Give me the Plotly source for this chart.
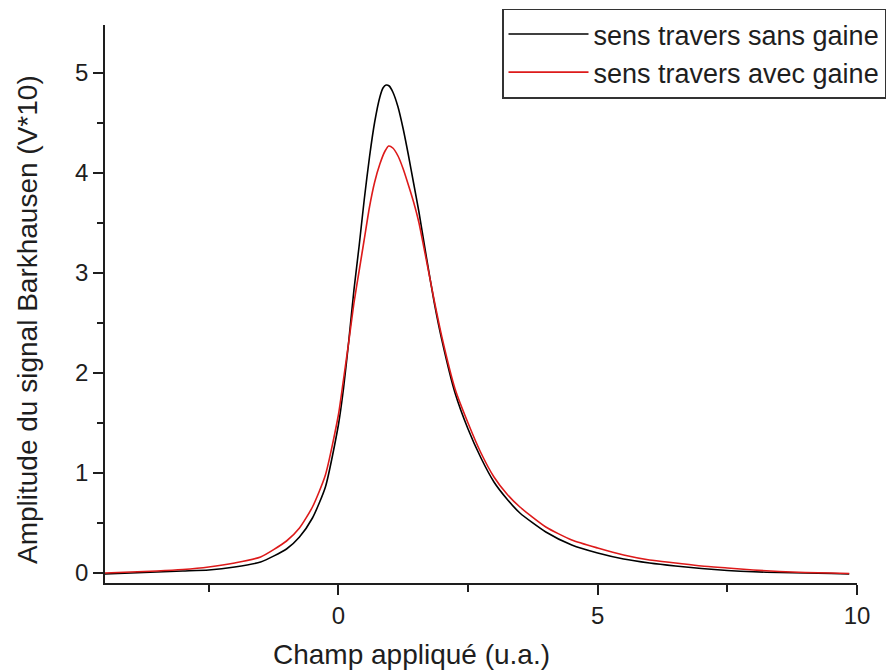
import plotly.graph_objects as go

# Applied field (u.a.) and Barkhausen amplitude (V*10)
champ_sans = [-4.5, -4.0, -3.5, -3.0, -2.5, -2.0, -1.5, -1.0, -0.75, -0.5, -0.25, 0.0,
              0.1, 0.2, 0.3, 0.4, 0.5, 0.6, 0.7, 0.8, 0.86, 0.92, 0.98, 1.05, 1.15, 1.25, 1.35, 1.45,
              1.55, 1.7, 1.85, 2.0, 2.25, 2.5, 2.75, 3.0, 3.25, 3.5, 4.0, 4.5, 5.0, 5.5,
              6.0, 6.5, 7.0, 7.5, 8.0, 8.5, 9.0, 9.5, 9.85]
sans_gaine = [-0.01, 0.00, 0.01, 0.02, 0.03, 0.06, 0.11, 0.24, 0.36, 0.55, 0.86, 1.48,
              1.85, 2.32, 2.83, 3.27, 3.74, 4.16, 4.51, 4.76, 4.85, 4.88, 4.87, 4.81, 4.66, 4.44, 4.18, 3.90,
              3.62, 3.15, 2.70, 2.32, 1.80, 1.44, 1.15, 0.91, 0.74, 0.60, 0.41, 0.28, 0.20, 0.14,
              0.10, 0.07, 0.045, 0.025, 0.012, 0.005, 0.0, -0.005, -0.01]

champ_avec = [-4.5, -4.0, -3.5, -3.0, -2.5, -2.0, -1.5, -1.0, -0.75, -0.5, -0.25, 0.0,
              0.1, 0.2, 0.3, 0.4, 0.5, 0.6, 0.7, 0.8, 0.9, 0.97, 1.05, 1.15, 1.25, 1.35, 1.45,
              1.55, 1.7, 1.85, 2.0, 2.25, 2.5, 2.75, 3.0, 3.25, 3.5, 4.0, 4.5, 5.0, 5.5,
              6.0, 6.5, 7.0, 7.5, 8.0, 8.5, 9.0, 9.5, 9.85]
avec_gaine = [0.00, 0.01, 0.02, 0.035, 0.06, 0.10, 0.16, 0.32, 0.45, 0.66, 0.98, 1.58,
              1.94, 2.31, 2.70, 3.02, 3.34, 3.66, 3.91, 4.09, 4.22, 4.27, 4.25, 4.17, 4.04, 3.88, 3.71,
              3.51, 3.12, 2.72, 2.35, 1.84, 1.50, 1.20, 0.96, 0.79, 0.66, 0.46, 0.33, 0.25, 0.18,
              0.13, 0.10, 0.07, 0.05, 0.03, 0.015, 0.005, 0.0, -0.005]

x_ticks = [0, 5, 10]
y_ticks = [0, 1, 2, 3, 4, 5]

FONT = "Liberation Sans, Arial, sans-serif"
TXT = "#1e1e1e"

# the page body adds an 8px offset; the figure is sized to fill the rest of the window
W, H = 886, 663
L, T = 97, 17
R, B = W - 849, H - 575
PW, PH = W - L - R, H - T - B

fig = go.Figure()
fig.add_trace(go.Scatter(x=champ_sans, y=sans_gaine, mode="lines", name="sens travers sans gaine",
                         line=dict(color="#000000", width=1.6, shape="spline", smoothing=0.6)))
fig.add_trace(go.Scatter(x=champ_avec, y=avec_gaine, mode="lines", name="sens travers avec gaine",
                         line=dict(color="#dd1a1a", width=1.6, shape="spline", smoothing=0.6)))

fig.update_layout(
    width=W, height=H,
    margin=dict(l=L, r=R, t=T, b=B, autoexpand=False),
    paper_bgcolor="white", plot_bgcolor="white",
    font=dict(family=FONT, color=TXT),
    showlegend=True,
    legend=dict(x=(494 - L) / PW, y=1 + (T - 0.5) / PH, xanchor="left", yanchor="top",
                bgcolor="white", bordercolor="#333333", borderwidth=1.5,
                font=dict(size=27, family=FONT, color=TXT),
                itemwidth=80, tracegroupgap=0),
    annotations=[
        dict(text="Champ appliqué (u.a.)", xref="paper", yref="paper",
             x=(403 - L) / PW, y=-(646 - (T + PH)) / PH, xanchor="center", yanchor="middle",
             showarrow=False, font=dict(size=28, family=FONT, color=TXT)),
        dict(text="Amplitude du signal Barkhausen (V*10)", xref="paper", yref="paper",
             x=(19 - L) / PW, y=1 - (312 - T) / PH, xanchor="center", yanchor="middle",
             textangle=-90, showarrow=False, font=dict(size=28, family=FONT, color=TXT)),
    ],
)

fig.update_xaxes(range=[-4.5, 10], tickmode="array", tickvals=x_ticks,
                 ticktext=[str(v) for v in x_ticks],
                 showline=True, linecolor=TXT, linewidth=1.5,
                 ticks="outside", ticklen=10, tickwidth=1.5, tickcolor=TXT,
                 minor=dict(dtick=2.5, tick0=0, ticks="outside", ticklen=7, tickwidth=1.5, tickcolor=TXT),
                 showgrid=False, zeroline=False,
                 tickfont=dict(size=24, family=FONT, color=TXT))

fig.update_yaxes(range=[-0.1, 5.48], tickmode="array", tickvals=y_ticks,
                 ticktext=[str(v) for v in y_ticks],
                 showline=True, linecolor=TXT, linewidth=1.5,
                 ticks="outside", ticklen=10, tickwidth=1.5, tickcolor=TXT,
                 minor=dict(dtick=0.5, tick0=0, ticks="outside", ticklen=6, tickwidth=1.5, tickcolor=TXT),
                 showgrid=False, zeroline=False,
                 tickfont=dict(size=24, family=FONT, color=TXT))

fig.write_html("out.html")
